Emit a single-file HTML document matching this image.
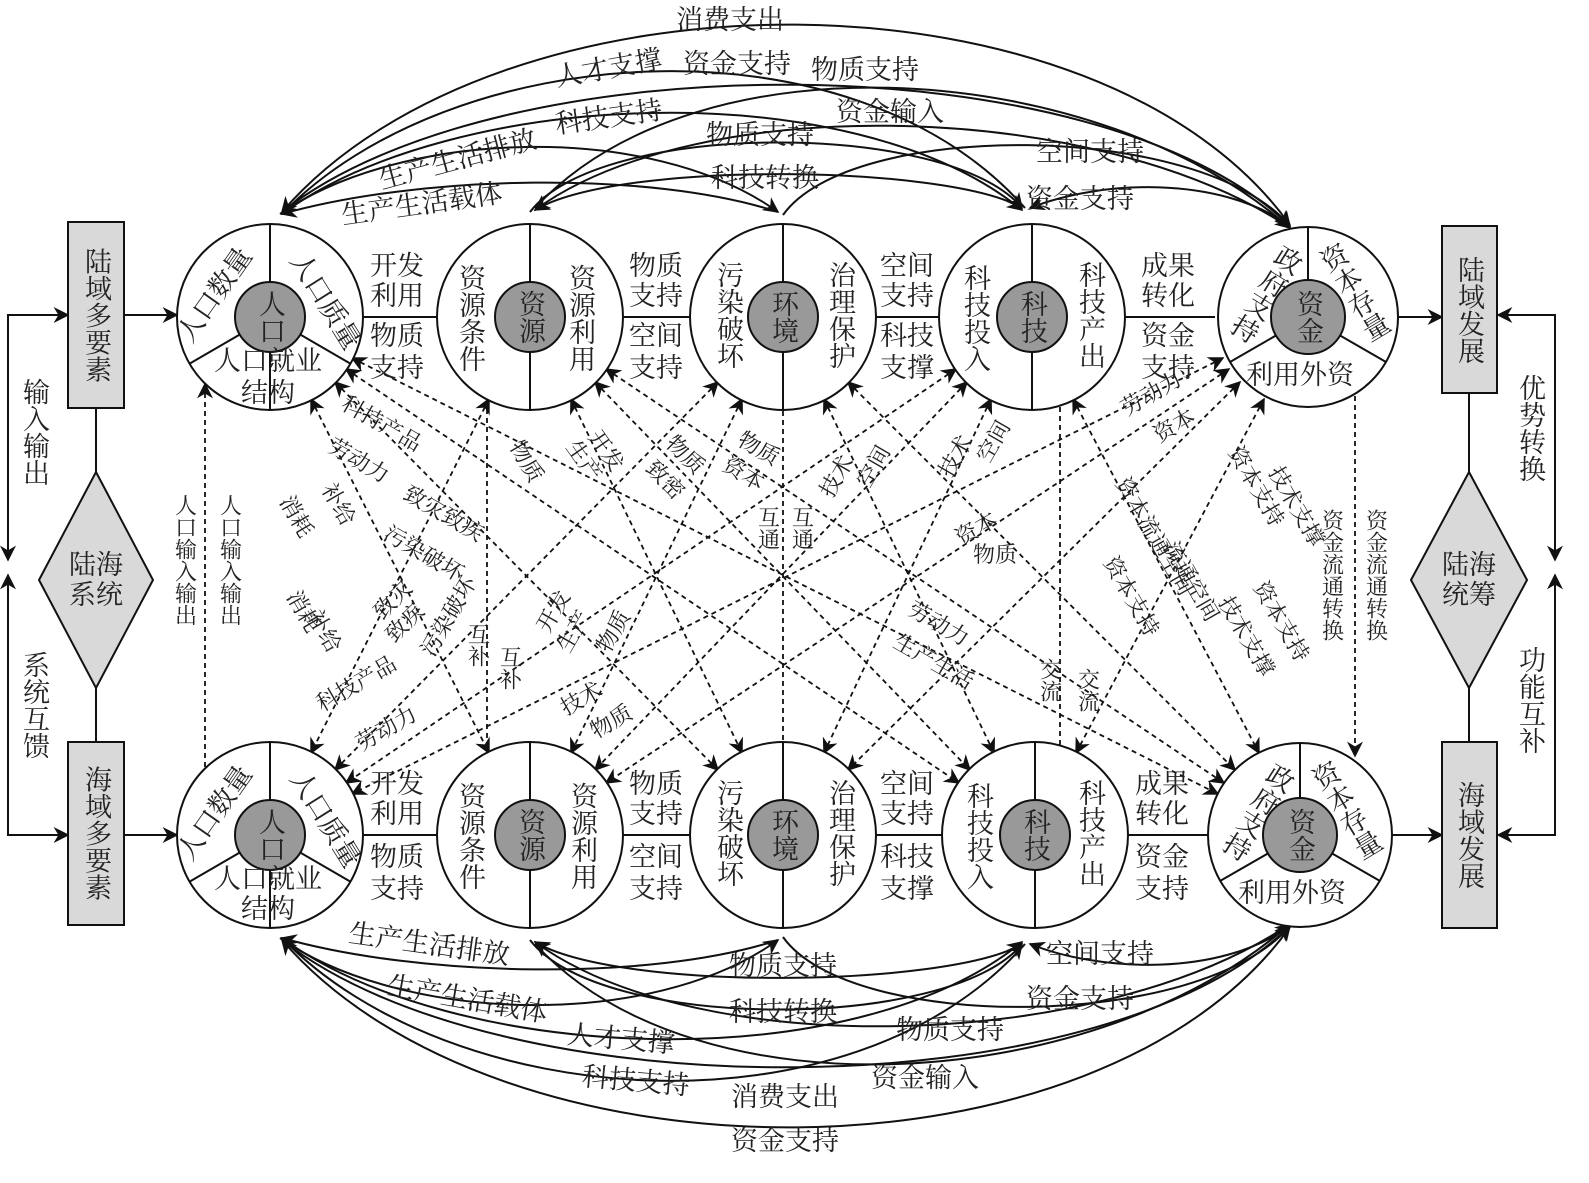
<!DOCTYPE html>
<html><head><meta charset="utf-8"><style>
html,body{margin:0;padding:0;background:#fff}
svg text{font-family:"Liberation Serif","Noto Serif CJK SC",serif;fill:#222}
.v{writing-mode:vertical-rl}
</style></head><body>
<svg width="1589" height="1178" viewBox="0 0 1589 1178" xmlns="http://www.w3.org/2000/svg">
<defs>
<marker id="b" viewBox="0 0 10 10" refX="9" refY="5" markerWidth="20" markerHeight="16" markerUnits="userSpaceOnUse" orient="auto-start-reverse"><path d="M0,0 L10,5 L0,10 L3,5 z" fill="#111"/></marker>
</defs>
<g fill="none" stroke="#111" stroke-width="2">
<path d="M68,315 H8 V560" marker-end="url(#b)"/><path d="M8,315 H68" marker-end="url(#b)"/>
<path d="M68,835 H8 V575" marker-end="url(#b)"/><path d="M8,835 H68" marker-end="url(#b)"/>
<path d="M1497,315 H1555 V560" marker-end="url(#b)"/><path d="M1555,315 H1498" marker-end="url(#b)"/>
<path d="M1497,835 H1555 V575" marker-end="url(#b)"/><path d="M1555,835 H1498" marker-end="url(#b)"/>
<path d="M96,408 V472 M96,688 V742 M1469,393 V472 M1469,688 V742"/>
<path d="M124,315 H177" marker-end="url(#b)"/><path d="M124,835 H177" marker-end="url(#b)"/>
<path d="M1397,317 H1442" marker-end="url(#b)"/><path d="M1392,835 H1442" marker-end="url(#b)"/>
<path d="M362,317 H438 M622,317 H691 M875,317 H940 M1124,317 H1215"/>
<path d="M362,835 H438 M622,835 H691 M875,835 H943 M1127,835 H1208"/>
<path d="M1290,225 C1100,-40 500,-40 282,212" marker-end="url(#b)"/>
<path d="M282,212 C500,40 1100,40 1290,226" marker-end="url(#b)"/>
<path d="M1025,208 C850,10 450,40 282,214" marker-end="url(#b)"/>
<path d="M282,214 C450,90 850,70 1022,210" marker-end="url(#b)"/>
<path d="M535,208 C700,30 1100,60 1290,228" marker-end="url(#b)"/>
<path d="M1290,228 C1100,100 700,90 535,210" marker-end="url(#b)"/>
<path d="M530,212 C600,120 950,120 1022,208" marker-end="url(#b)"/>
<path d="M1022,208 C950,165 620,160 535,210" marker-end="url(#b)"/>
<path d="M783,215 C850,120 1200,120 1290,226" marker-end="url(#b)"/>
<path d="M1290,226 C1220,175 1100,180 1030,208" marker-end="url(#b)"/>
<path d="M280,214 C400,130 650,120 778,212" marker-end="url(#b)"/>
<path d="M778,212 C650,170 420,175 282,214" marker-end="url(#b)"/>
<path d="M1290,927 C1100,1192 500,1192 282,940" marker-end="url(#b)"/>
<path d="M282,940 C500,1112 1100,1112 1290,926" marker-end="url(#b)"/>
<path d="M1025,944 C850,1142 450,1112 282,938" marker-end="url(#b)"/>
<path d="M282,938 C450,1062 850,1082 1022,942" marker-end="url(#b)"/>
<path d="M535,944 C700,1122 1100,1092 1290,924" marker-end="url(#b)"/>
<path d="M1290,924 C1100,1052 700,1062 535,942" marker-end="url(#b)"/>
<path d="M530,940 C600,1032 950,1032 1022,944" marker-end="url(#b)"/>
<path d="M1022,944 C950,987 620,992 535,942" marker-end="url(#b)"/>
<path d="M783,937 C850,1032 1200,1032 1290,926" marker-end="url(#b)"/>
<path d="M1290,926 C1220,977 1100,972 1030,944" marker-end="url(#b)"/>
<path d="M280,938 C400,1022 650,1032 778,940" marker-end="url(#b)"/>
<path d="M778,940 C650,982 420,977 282,938" marker-end="url(#b)"/>
</g>
<g fill="none" stroke="#111" stroke-width="1.8" stroke-dasharray="5,4" marker-start="url(#b)" marker-end="url(#b)">
<path d="M205,384 V768 M487,400 V752 M783,411 V741 M1060,407 V745 M1355,396 V756"/>
<path d="M311,399 L489,753"/><path d="M335,382 L718,770"/><path d="M346,369 L959,783"/><path d="M352,358 L1218,794"/>
<path d="M489,399 L311,753"/><path d="M571,399 L742,753"/><path d="M595,382 L970,770"/><path d="M606,369 L1224,783"/>
<path d="M742,399 L571,753"/><path d="M718,382 L335,770"/><path d="M824,399 L994,753"/><path d="M848,382 L1235,770"/>
<path d="M991,399 L824,753"/><path d="M967,382 L595,770"/><path d="M956,369 L346,783"/><path d="M1073,399 L1259,753"/>
<path d="M1264,399 L1076,753"/><path d="M1240,382 L848,770"/><path d="M1229,369 L606,783"/><path d="M1223,358 L352,794"/>
</g>
<g stroke="#111" stroke-width="2">
<g fill="#fff">
<circle cx="270" cy="317" r="93"/><circle cx="530" cy="317" r="93"/><circle cx="783" cy="317" r="93"/><circle cx="1032" cy="317" r="93"/><circle cx="1308" cy="317" r="90"/>
<circle cx="270" cy="835" r="93"/><circle cx="530" cy="835" r="93"/><circle cx="783" cy="835" r="93"/><circle cx="1035" cy="835" r="93"/><circle cx="1300" cy="835" r="92"/>
</g>
<path d="M270,224 V410 M530,224 V410 M783,224 V410 M1032,224 V410 M270,742 V928 M530,742 V928 M783,742 V928 M1035,742 V928" fill="none"/>
<path d="M270,317 L189,364 M270,317 L351,364 M1308,317 L1230,362 M1308,317 L1386,362 M270,835 L189,882 M270,835 L351,882 M1300,835 L1220,881 M1300,835 L1380,881" fill="none"/>
<path d="M1308,317 V227 M1300,835 V743" fill="none"/>
<g fill="#999">
<circle cx="270" cy="317" r="35"/><circle cx="530" cy="317" r="35"/><circle cx="783" cy="317" r="35"/><circle cx="1032" cy="317" r="35"/><circle cx="1308" cy="317" r="37"/>
<circle cx="270" cy="835" r="35"/><circle cx="530" cy="835" r="35"/><circle cx="783" cy="835" r="35"/><circle cx="1035" cy="835" r="35"/><circle cx="1300" cy="835" r="37"/>
</g>
<g fill="#d9d9d9">
<rect x="68" y="222" width="56" height="186"/><rect x="68" y="742" width="56" height="183"/>
<rect x="1442" y="226" width="55" height="167"/><rect x="1442" y="742" width="55" height="186"/>
<path d="M96,472 L153,580 L96,688 L39,580 Z"/><path d="M1469,472 L1527,580 L1469,688 L1411,580 Z"/>
</g>
</g>
<g font-size="27" text-anchor="middle">
<text class="v" x="96" y="315">陆域多要素</text>
<text class="v" x="96" y="833">海域多要素</text>
<text class="v" x="1469" y="310">陆域发展</text>
<text class="v" x="1469" y="835">海域发展</text>
<text x="96" y="574">陆海</text><text x="96" y="604">系统</text>
<text x="1469" y="574">陆海</text><text x="1469" y="604">统筹</text>
<text class="v" x="34" y="432">输入输出</text>
<text class="v" x="34" y="705">系统互馈</text>
<text class="v" x="1530" y="428">优势转换</text>
<text class="v" x="1530" y="700">功能互补</text>
</g>
<g font-size="27" text-anchor="middle">
<text class="v" x="270" y="317">人口</text>
<text transform="translate(222,300) rotate(-55)">人口数量</text>
<text transform="translate(318,306) rotate(58)">人口质量</text>
<text x="268" y="370">人口就业</text><text x="268" y="402">结构</text>
<text class="v" x="530" y="317">资源</text><text class="v" x="783" y="317">环境</text><text class="v" x="1032" y="317">科技</text><text class="v" x="1308" y="317">资金</text>
<text class="v" x="470" y="318">资源条件</text><text class="v" x="580" y="318">资源利用</text>
<text class="v" x="728" y="315">污染破坏</text><text class="v" x="840" y="315">治理保护</text>
<text class="v" x="975" y="318">科技投入</text><text class="v" x="1090" y="315">科技产出</text>
<text class="v" transform="translate(1265,293) rotate(32)">政府支持</text>
<text class="v" transform="translate(1353,293) rotate(-31)">资本存量</text>
<text x="1300" y="384">利用外资</text>
<text class="v" x="270" y="835">人口</text>
<text transform="translate(222,818) rotate(-55)">人口数量</text>
<text transform="translate(318,824) rotate(58)">人口质量</text>
<text x="268" y="888">人口就业</text><text x="268" y="918">结构</text>
<text class="v" x="530" y="835">资源</text><text class="v" x="783" y="835">环境</text><text class="v" x="1035" y="835">科技</text><text class="v" x="1300" y="835">资金</text>
<text class="v" x="470" y="836">资源条件</text><text class="v" x="582" y="836">资源利用</text>
<text class="v" x="728" y="833">污染破坏</text><text class="v" x="840" y="833">治理保护</text>
<text class="v" x="978" y="836">科技投入</text><text class="v" x="1090" y="833">科技产出</text>
<text class="v" transform="translate(1257,811) rotate(32)">政府支持</text>
<text class="v" transform="translate(1345,811) rotate(-31)">资本存量</text>
<text x="1292" y="902">利用外资</text>
<text x="397" y="275">开发</text><text x="397" y="305">利用</text><text x="397" y="345">物质</text><text x="397" y="377">支持</text>
<text x="656" y="275">物质</text><text x="656" y="305">支持</text><text x="656" y="345">空间</text><text x="656" y="377">支持</text>
<text x="907" y="275">空间</text><text x="907" y="305">支持</text><text x="907" y="345">科技</text><text x="907" y="377">支撑</text>
<text x="1168" y="275">成果</text><text x="1168" y="305">转化</text><text x="1168" y="345">资金</text><text x="1168" y="377">支持</text>
<text x="397" y="793">开发</text><text x="397" y="823">利用</text><text x="397" y="866">物质</text><text x="397" y="898">支持</text>
<text x="656" y="793">物质</text><text x="656" y="823">支持</text><text x="656" y="866">空间</text><text x="656" y="898">支持</text>
<text x="907" y="793">空间</text><text x="907" y="823">支持</text><text x="907" y="866">科技</text><text x="907" y="898">支撑</text>
<text x="1162" y="793">成果</text><text x="1162" y="823">转化</text><text x="1162" y="866">资金</text><text x="1162" y="898">支持</text>
<text x="730" y="29">消费支出</text>
<text transform="translate(610,77) rotate(-10)">人才支撑</text>
<text x="737" y="73">资金支持</text>
<text x="865" y="79">物质支持</text>
<text x="890" y="121">资金输入</text>
<text transform="translate(610,126) rotate(-8)">科技支持</text>
<text x="760" y="144">物质支持</text>
<text x="1090" y="161">空间支持</text>
<text transform="translate(460,168) rotate(-15)">生产生活排放</text>
<text x="765" y="187">科技转换</text>
<text x="1080" y="208">资金支持</text>
<text transform="translate(423,213) rotate(-8)">生产生活载体</text>
<text transform="translate(428,953) rotate(8)">生产生活排放</text>
<text transform="translate(466,1008) rotate(10)">生产生活载体</text>
<text transform="translate(620,1048) rotate(5)">人才支撑</text>
<text transform="translate(635,1090) rotate(5)">科技支持</text>
<text x="785" y="1106">消费支出</text>
<text x="785" y="1150">资金支持</text>
<text x="783" y="975">物质支持</text>
<text x="783" y="1021">科技转换</text>
<text x="1100" y="963">空间支持</text>
<text x="1080" y="1008">资金支持</text>
<text x="950" y="1039">物质支持</text>
<text x="925" y="1087">资金输入</text>
</g>
<g font-size="22" text-anchor="middle">
<text class="v" x="185" y="560">人口输入输出</text>
<text class="v" x="230" y="560">人口输入输出</text>
<text transform="translate(378,430) rotate(30)">科持产品</text>
<text transform="translate(355,467) rotate(30)">劳动力</text>
<text transform="translate(332,508) rotate(60)">补给</text>
<text transform="translate(290,520) rotate(60)">消耗</text>
<text transform="translate(440,520) rotate(30)">致灾致疾</text>
<text transform="translate(420,560) rotate(30)">污染破坏</text>
<text transform="translate(520,465) rotate(60)">物质</text>
<text transform="translate(600,455) rotate(55)">开发</text>
<text transform="translate(578,465) rotate(55)">生产</text>
<text transform="translate(680,460) rotate(45)">物质</text>
<text transform="translate(660,485) rotate(45)">致密</text>
<text transform="translate(755,455) rotate(30)">物质</text>
<text transform="translate(740,480) rotate(30)">资本</text>
<text class="v" x="768" y="528">互通</text><text class="v" x="802" y="528">互通</text>
<text transform="translate(843,480) rotate(-60)">技术</text>
<text transform="translate(880,470) rotate(-60)">空间</text>
<text transform="translate(962,460) rotate(-60)">技术</text>
<text transform="translate(1000,445) rotate(-60)">空间</text>
<text transform="translate(1155,400) rotate(-30)">劳动力</text>
<text transform="translate(1178,432) rotate(-30)">资本</text>
<text transform="translate(980,535) rotate(-30)">资本</text>
<text transform="translate(995,562)">物质</text>
<text transform="translate(1250,490) rotate(60)">资本支持</text>
<text transform="translate(1290,510) rotate(60)">技术支撑</text>
<text class="v" x="1332" y="575">资金流通转换</text>
<text class="v" x="1376" y="575">资金流通转换</text>
<text transform="translate(1148,540) rotate(60)">资本流通空间</text>
<text transform="translate(1185,585) rotate(60)">流通空间</text>
<text transform="translate(1125,600) rotate(60)">资本支持</text>
<text transform="translate(1240,640) rotate(60)">技术支撑</text>
<text transform="translate(1275,625) rotate(60)">资本支持</text>
<text transform="translate(297,615) rotate(60)">消耗</text>
<text transform="translate(318,635) rotate(60)">补给</text>
<text transform="translate(398,605) rotate(-45)">致灾</text>
<text transform="translate(410,628) rotate(-45)">致疾</text>
<text transform="translate(360,690) rotate(-30)">科技产品</text>
<text transform="translate(390,735) rotate(-30)">劳动力</text>
<text transform="translate(455,620) rotate(-60)">污染破坏</text>
<text class="v" x="478" y="645">互补</text><text class="v" x="510" y="668">互补</text>
<text transform="translate(560,615) rotate(-60)">开发</text>
<text transform="translate(580,635) rotate(-60)">生产</text>
<text transform="translate(620,635) rotate(-60)">物质</text>
<text transform="translate(585,705) rotate(-30)">技术</text>
<text transform="translate(615,728) rotate(-30)">物质</text>
<text transform="translate(935,630) rotate(30)">劳动力</text>
<text transform="translate(930,668) rotate(30)">生产生活</text>
<text class="v" x="1050" y="680">交流</text><text class="v" x="1088" y="690">交流</text>
</g>
</svg>
</body></html>
